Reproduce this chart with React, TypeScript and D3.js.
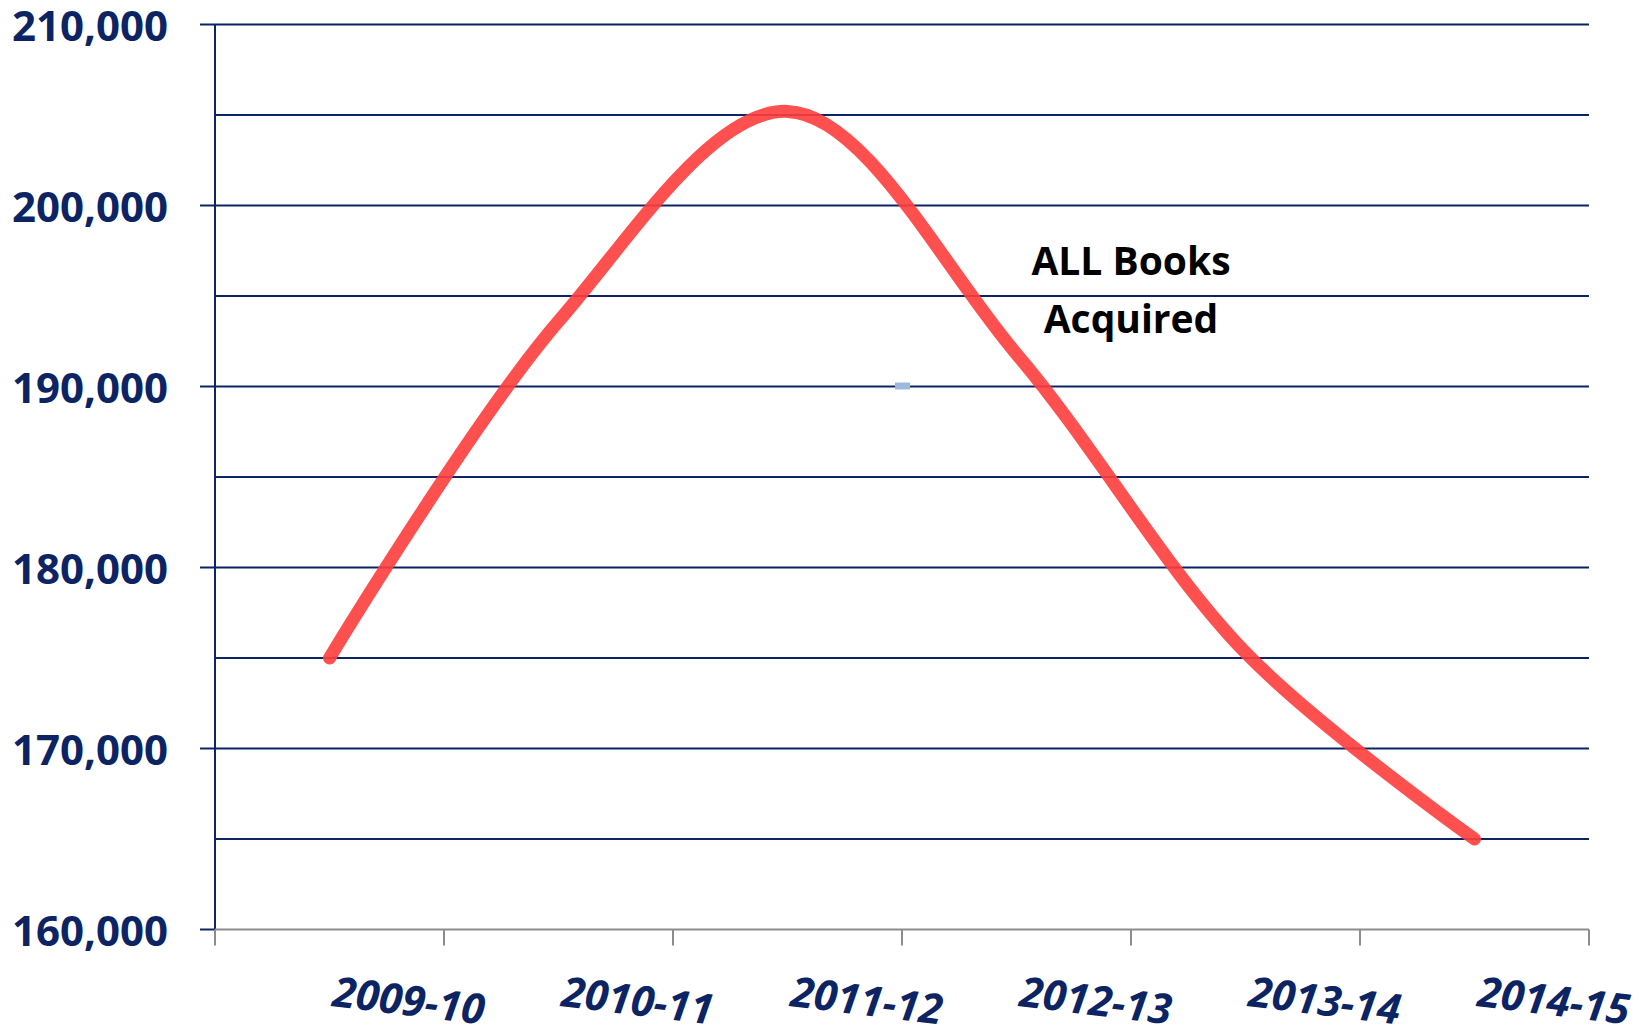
import React from 'react';
import * as d3 from 'd3';

const categories = ['2009-10', '2010-11', '2011-12', '2012-13', '2013-14', '2014-15'];
const booksAcquired = [175000, 193600, 205200, 191800, 175300, 165000];
const yTicks = [160000, 170000, 180000, 190000, 200000, 210000];
const gridValues = [165000, 170000, 175000, 180000, 185000, 190000, 195000, 200000, 205000, 210000];

const W = 1652;
const H = 1026;
const navy = '#0c2463';
const font = '"Open Sans", sans-serif';

const App: React.FC = () => {
    const x = d3.scaleBand<string>().domain(categories).range([215, 1589]).paddingInner(0).paddingOuter(0);
    const y = d3.scaleLinear().domain([160000, 210000]).range([929.5, 24.5]);
    const bw = x.bandwidth();
    const cx = (c: string) => (x(c) as number) + bw / 2;

    const line = d3.line<number>()
        .x((_, i) => cx(categories[i]))
        .y(d => y(d))
        .curve(d3.curveCatmullRom.alpha(0.5));

    const boundaries = categories.map(c => x(c) as number).concat([x.range()[1]]);
    const fmt = d3.format(',');

    return (
        <svg width={W} height={H} style={{ position: 'absolute', left: 0, top: 0, background: '#fff' }}>
            {/* horizontal gridlines */}
            {gridValues.map(v => (
                <line key={v} x1={215} x2={1589} y1={y(v)} y2={y(v)} stroke={navy} strokeWidth={2.2} />
            ))}
            {/* y axis */}
            <line x1={215} x2={215} y1={y(210000)} y2={y(160000)} stroke={navy} strokeWidth={2} />
            {yTicks.map(v => (
                <g key={v}>
                    <line x1={200} x2={215} y1={y(v)} y2={y(v)} stroke={navy} strokeWidth={2} />
                    <text x={168} y={y(v)} textAnchor="end" dominantBaseline="central"
                        fontFamily={font} fontWeight={700} fontSize={42} fill={navy}>{fmt(v)}</text>
                </g>
            ))}
            {/* x axis */}
            <line x1={215} x2={1589} y1={y(160000)} y2={y(160000)} stroke="#8c8c8c" strokeWidth={2} />
            {boundaries.map((b, i) => (
                <line key={i} x1={b} x2={b} y1={y(160000)} y2={y(160000) + 16} stroke="#8c8c8c" strokeWidth={2} />
            ))}
            {categories.map(c => (
                <text key={c} transform={`translate(${cx(c) + 2},${1006}) rotate(7)`} textAnchor="start"
                    fontFamily={font} fontWeight={700} fontStyle="italic" fontSize={42} fill={navy}>{c}</text>
            ))}
            {/* small marker */}
            <rect x={boundaries[3] - 7} y={y(190000) - 4} width={15} height={7} fill="#9db9de" />
            {/* series */}
            <path d={line(booksAcquired) || ''} fill="none" stroke="#ff3d3d" strokeOpacity={0.9}
                strokeWidth={13} strokeLinecap="round" strokeLinejoin="round" />
            {/* label */}
            <text x={1131} y={275} textAnchor="middle" fontFamily={font} fontWeight={700} fontSize={39} fill="#000">ALL Books</text>
            <text x={1131} y={333} textAnchor="middle" fontFamily={font} fontWeight={700} fontSize={39} fill="#000">Acquired</text>
        </svg>
    );
};

export default App;
